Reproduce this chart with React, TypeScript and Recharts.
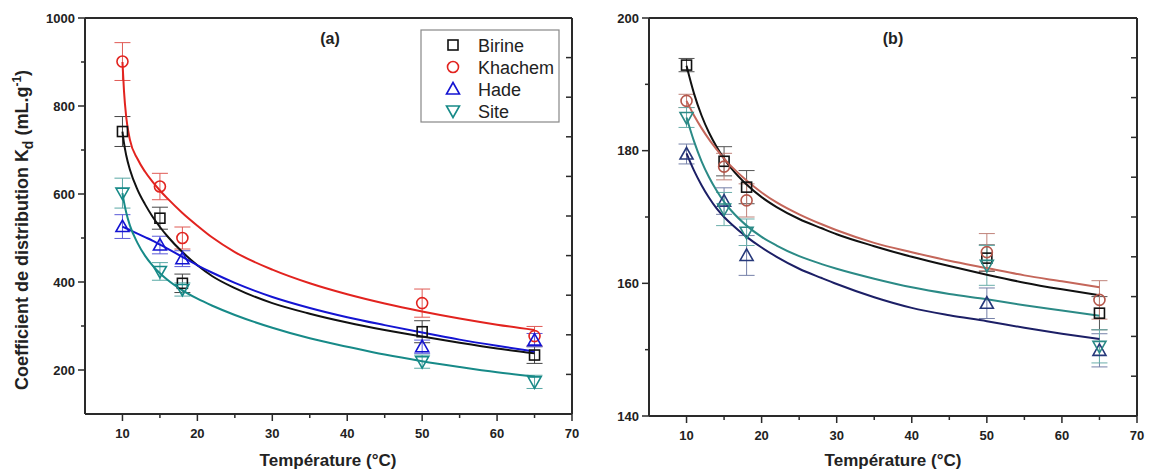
import React from 'react';
import { ComposedChart, Scatter, XAxis, YAxis, ErrorBar } from 'recharts';

const FONT = '"Liberation Sans", Arial, Helvetica, sans-serif';

// temperatures of the batch experiments (°C)
const temps = [10, 15, 18, 50, 65];

// panel (a): measured Kd (mL/g) with error
const birineA = [742, 545, 397, 287, 234];
const birineErrA = [34, 25, 21, 25, 19];
const khachemA = [901, 617, 500, 352, 277];
const khachemErrA = [43, 30, 25, 32, 22];
const hadeA = [526, 484, 453, 253, 268];
const hadeErrA = [27, 20, 18, 15, 15];
const siteA = [602, 424, 383, 219, 173];
const siteErrA = [34, 20, 15, 15, 15];

// panel (a): fitted curves
const fitTempsA = [10, 10.2, 10.5, 11, 12, 13, 14, 15, 16, 18, 20, 22, 25, 30, 35, 40, 45, 50, 55, 60, 65];
const birineFitA = [742, 716, 688, 655, 610, 577, 549, 525, 504, 468, 438, 413, 386, 352, 328, 308, 291, 276, 262, 249, 238];
const khachemFitA = [900, 835, 775, 723, 680, 651, 628, 608, 590, 557, 528, 501, 468, 428, 397, 372, 351, 333, 317, 303, 291];
const hadeFitA = [526, 524, 522, 518, 510, 502, 494, 485, 476, 457, 438, 421, 398, 366, 341, 320, 302, 285, 269, 255, 242];
const siteFitA = [602, 582, 558, 528, 489, 460, 438, 420, 405, 381, 362, 346, 325, 296, 272, 253, 235, 220, 207, 195, 185];

// panel (b): measured Kd (mL/g) with error
const birineB = [192.9, 178.4, 174.5, 163.8, 155.5];
const birineErrB = [1, 2.2, 2.5, 2, 2.5];
const khachemB = [187.5, 177.6, 172.5, 164.7, 157.5];
const khachemErrB = [1, 2, 2.5, 2.8, 2.9];
const hadeB = [179.5, 172.4, 164.2, 157.0, 149.9];
const hadeErrB = [1.5, 2, 3, 2.3, 2.5];
const siteB = [185.0, 171.2, 167.7, 162.7, 150.5];
const siteErrB = [1.5, 2.5, 2, 3, 2.5];

// panel (b): fitted curves
const fitTempsB = [10, 11, 12, 13, 14, 15, 16, 18, 20, 22, 25, 28, 30, 35, 40, 45, 50, 55, 60, 65];
const birineFitB = [192.8, 188.6, 185.3, 182.7, 180.6, 178.8, 177.3, 174.9, 173.0, 171.5, 169.7, 168.3, 167.4, 165.6, 164.0, 162.6, 161.3, 160.1, 159.1, 158.2];
const khachemFitB = [187.5, 185.3, 183.4, 181.7, 180.2, 178.8, 177.6, 175.5, 173.7, 172.2, 170.4, 168.9, 168.0, 166.1, 164.7, 163.4, 162.3, 161.2, 160.3, 159.4];
const hadeFitB = [179.6, 177.0, 174.8, 172.9, 171.3, 170.0, 168.9, 167.0, 165.4, 164.0, 162.2, 160.8, 159.9, 157.9, 156.3, 155.2, 154.3, 153.3, 152.4, 151.6];
const siteFitB = [185.0, 181.4, 178.4, 176.0, 174.0, 172.3, 170.9, 168.7, 167.0, 165.7, 164.1, 162.9, 162.2, 160.7, 159.4, 158.4, 157.6, 156.7, 155.9, 155.1];

// axes
const xTicks = [10, 15, 20, 25, 30, 35, 40, 45, 50, 55, 60, 65, 70];
const yTicksA = [200, 300, 400, 500, 600, 700, 800, 900, 1000];
const yTicksB = [140, 150, 160, 170, 180, 190, 200];
const frameTicks = [1, 2, 3, 4, 5, 6, 7, 8, 9];

const seriesNames = ['Birine', 'Khachem', 'Hade', 'Site'];
const kinds = ['square', 'circle', 'up', 'down'];

type Kind = 'square' | 'circle' | 'up' | 'down';

function Sym({ cx, cy, kind, color }: { cx: number; cy: number; kind: Kind; color: string }) {
  const sw = 1.6;
  if (kind === 'square') return <rect x={cx - 5} y={cy - 5} width={10} height={10} fill="none" stroke={color} strokeWidth={sw} />;
  if (kind === 'circle') return <circle cx={cx} cy={cy} r={5.5} fill="none" stroke={color} strokeWidth={sw} />;
  if (kind === 'up')
    return <polygon points={`${cx},${cy - 6.5} ${cx + 6.5},${cy + 5} ${cx - 6.5},${cy + 5}`} fill="none" stroke={color} strokeWidth={sw} />;
  return <polygon points={`${cx},${cy + 6.5} ${cx + 6.5},${cy - 5} ${cx - 6.5},${cy - 5}`} fill="none" stroke={color} strokeWidth={sw} />;
}

const AX = '#2a2a2a';

const BottomTick = (props: any) => {
  const { x, y, payload } = props;
  const v = payload.value;
  const major = v % 10 === 0;
  return (
    <g>
      <line x1={x} y1={y} x2={x} y2={y + (major ? 7 : 4)} stroke={AX} strokeWidth={1.5} />
      {major && (
        <text x={x} y={y + 24} textAnchor="middle" fontSize={13} fontWeight="bold" fontFamily={FONT} fill="#222">
          {v}
        </text>
      )}
    </g>
  );
};

const makeLeftTick = (labelStep: number) => (props: any) => {
  const { x, y, payload } = props;
  const v = payload.value;
  const major = v % labelStep === 0;
  return (
    <g>
      <line x1={x - (major ? 7 : 4)} y1={y} x2={x} y2={y} stroke={AX} strokeWidth={1.5} />
      {major && (
        <text x={x - 10} y={y + 4.5} textAnchor="end" fontSize={13} fontWeight="bold" fontFamily={FONT} fill="#222">
          {v}
        </text>
      )}
    </g>
  );
};

const TopTick = (props: any) => {
  const { x, y } = props;
  return <line x1={x} y1={y} x2={x} y2={y + 6} stroke={AX} strokeWidth={1.5} />;
};

const RightTick = (props: any) => {
  const { x, y } = props;
  return <line x1={x - 6} y1={y} x2={x} y2={y} stroke={AX} strokeWidth={1.5} />;
};

interface SeriesDef {
  name: string;
  kind: Kind;
  vals: number[];
  errs: number[];
  fit: number[];
  color: string;
  errColor: string;
  fitColor: string;
}

interface PanelProps {
  left: number;
  width: number;
  plotLeft: number;
  plotRight: number;
  plotTop: number;
  plotBottom: number;
  yDomain: [number, number];
  yTicks: number[];
  labelStep: number;
  fitTemps: number[];
  series: SeriesDef[];
}

function Panel(p: PanelProps) {
  const height = 476;
  const LeftTick = makeLeftTick(p.labelStep);
  return (
    <div style={{ position: 'absolute', left: p.left, top: 0 }}>
      <ComposedChart width={p.width} height={height} margin={{ top: 0, right: 0, bottom: 0, left: 0 }}>
        <XAxis
          xAxisId="main"
          dataKey="t"
          type="number"
          domain={[5, 70]}
          ticks={xTicks}
          interval={0}
          height={height - p.plotBottom}
          tickSize={0}
          tickMargin={0}
          tickLine={false}
          tick={BottomTick}
          axisLine={{ stroke: AX, strokeWidth: 2 }}
          allowDataOverflow
        />
        <XAxis
          xAxisId="top"
          orientation="top"
          type="number"
          domain={[0, 10]}
          ticks={frameTicks}
          interval={0}
          height={p.plotTop}
          tickSize={0}
          tickMargin={0}
          tickLine={false}
          tick={TopTick}
          axisLine={{ stroke: AX, strokeWidth: 2 }}
          allowDataOverflow
        />
        <YAxis
          yAxisId="main"
          dataKey="v"
          type="number"
          domain={p.yDomain}
          ticks={p.yTicks}
          interval={0}
          width={p.plotLeft - p.left}
          tickSize={0}
          tickMargin={0}
          tickLine={false}
          tick={LeftTick}
          axisLine={{ stroke: AX, strokeWidth: 2 }}
          allowDataOverflow
        />
        <YAxis
          yAxisId="right"
          orientation="right"
          type="number"
          domain={[0, 10]}
          ticks={frameTicks}
          interval={0}
          width={p.left + p.width - p.plotRight}
          tickSize={0}
          tickMargin={0}
          tickLine={false}
          tick={RightTick}
          axisLine={{ stroke: AX, strokeWidth: 2 }}
          allowDataOverflow
        />
        {p.series.map((s) => (
          <Scatter
            key={s.name + '-fit'}
            xAxisId="main"
            yAxisId="main"
            data={p.fitTemps.map((t, i) => ({ t, v: s.fit[i] }))}
            line={{ stroke: s.fitColor, strokeWidth: 2 }}
            lineJointType="monotoneX"
            shape={() => <g />}
            legendType="none"
            isAnimationActive={false}
          />
        ))}
        {p.series.map((s) => (
          <Scatter
            key={s.name}
            name={s.name}
            xAxisId="main"
            yAxisId="main"
            data={temps.map((t, i) => ({ t, v: s.vals[i], e: s.errs[i] }))}
            shape={(sp: any) => <Sym cx={sp.cx} cy={sp.cy} kind={s.kind} color={s.color} />}
            isAnimationActive={false}
          >
            <ErrorBar dataKey="e" direction="y" width={8} stroke={s.errColor} strokeWidth={1} />
          </Scatter>
        ))}
      </ComposedChart>
    </div>
  );
}

const seriesA: SeriesDef[] = [
  { name: seriesNames[0], kind: kinds[0] as Kind, vals: birineA, errs: birineErrA, fit: birineFitA, color: '#111111', errColor: '#444444', fitColor: '#111111' },
  { name: seriesNames[1], kind: kinds[1] as Kind, vals: khachemA, errs: khachemErrA, fit: khachemFitA, color: '#e2231f', errColor: '#e05a55', fitColor: '#e2231f' },
  { name: seriesNames[2], kind: kinds[2] as Kind, vals: hadeA, errs: hadeErrA, fit: hadeFitA, color: '#1414d2', errColor: '#5a5ad8', fitColor: '#1414d2' },
  { name: seriesNames[3], kind: kinds[3] as Kind, vals: siteA, errs: siteErrA, fit: siteFitA, color: '#178a88', errColor: '#58a8a5', fitColor: '#178a88' },
];

const seriesB: SeriesDef[] = [
  { name: seriesNames[0], kind: kinds[0] as Kind, vals: birineB, errs: birineErrB, fit: birineFitB, color: '#111111', errColor: '#555555', fitColor: '#111111' },
  { name: seriesNames[1], kind: kinds[1] as Kind, vals: khachemB, errs: khachemErrB, fit: khachemFitB, color: '#b5574b', errColor: '#c0837a', fitColor: '#c4665a' },
  { name: seriesNames[2], kind: kinds[2] as Kind, vals: hadeB, errs: hadeErrB, fit: hadeFitB, color: '#26387a', errColor: '#7580a8', fitColor: '#1c1f66' },
  { name: seriesNames[3], kind: kinds[3] as Kind, vals: siteB, errs: siteErrB, fit: siteFitB, color: '#2b8a86', errColor: '#6aaeaa', fitColor: '#2b8a86' },
];

export default function App() {
  const legendRows = [45, 67, 89, 111];
  return (
    <div style={{ position: 'absolute', left: 0, top: 0, width: 1150, height: 476, background: '#fff', fontFamily: FONT }}>
      <Panel
        left={0}
        width={600}
        plotLeft={85}
        plotRight={572}
        plotTop={18}
        plotBottom={414}
        yDomain={[100, 1000]}
        yTicks={yTicksA}
        labelStep={200}
        fitTemps={fitTempsA}
        series={seriesA}
      />
      <Panel
        left={560}
        width={590}
        plotLeft={649}
        plotRight={1137}
        plotTop={18}
        plotBottom={416}
        yDomain={[140, 200]}
        yTicks={yTicksB}
        labelStep={20}
        fitTemps={fitTempsB}
        series={seriesB}
      />
      <svg width={1150} height={476} style={{ position: 'absolute', left: 0, top: 0, pointerEvents: 'none' }}>
        {/* panel labels */}
        <text x={330} y={44} textAnchor="middle" fontSize={16} fontWeight="bold" fontFamily={FONT} fill="#222">(a)</text>
        <text x={893} y={44} textAnchor="middle" fontSize={16} fontWeight="bold" fontFamily={FONT} fill="#222">(b)</text>

        {/* legend */}
        <rect x={421} y={30} width={138} height={92} fill="#fff" stroke="#888" strokeWidth={1.2} />
        {seriesA.map((s, i) => (
          <g key={s.name}>
            <Sym cx={453} cy={legendRows[i]} kind={s.kind} color={s.color} />
            <text x={478} y={legendRows[i] + 6.5} fontSize={18} fontFamily={FONT} fill="#222">{s.name}</text>
          </g>
        ))}

        {/* axis titles */}
        <text x={328} y={466} textAnchor="middle" fontSize={17} fontWeight="bold" fontFamily={FONT} fill="#222">Température (°C)</text>
        <text x={893} y={466} textAnchor="middle" fontSize={17} fontWeight="bold" fontFamily={FONT} fill="#222">Température (°C)</text>
        <text
          transform="translate(28, 230) rotate(-90)"
          textAnchor="middle"
          fontSize={18}
          fontWeight="bold"
          fontFamily={FONT}
          fill="#222"
        >
          Coefficient de distribution K
          <tspan dy={5} fontSize={14}>d</tspan>
          <tspan dy={-5}> (mL.g</tspan>
          <tspan dy={-7} fontSize={12}>-1</tspan>
          <tspan dy={7}>)</tspan>
        </text>
      </svg>
    </div>
  );
}
